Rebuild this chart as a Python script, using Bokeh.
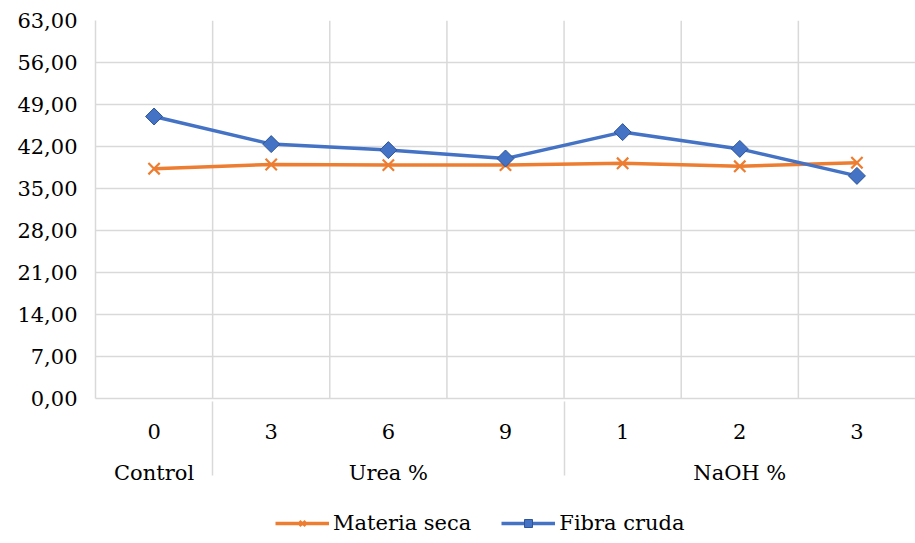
from bokeh.plotting import figure
from bokeh.layouts import column
from bokeh.models import FactorRange, FixedTicker, Legend, LegendItem, Span, ColumnDataSource
from bokeh.embed import file_html
from bokeh.resources import INLINE

# ---- data ----
groups = ["Control", "Urea %", "Urea %", "Urea %", "NaOH %", "NaOH %", "NaOH %"]
levels = ["0", "3", "6", "9", "1", "2", "3"]
materia_seca = [38.3, 39.0, 38.9, 38.9, 39.2, 38.7, 39.3]
fibra_cruda = [47.0, 42.4, 41.4, 40.0, 44.4, 41.6, 37.1]
series_names = ["Materia seca", "Fibra cruda"]
y_ticks = [0, 7, 14, 21, 28, 35, 42, 49, 56, 63]
y_tick_labels = ["0,00", "7,00", "14,00", "21,00", "28,00", "35,00",
                 "42,00", "49,00", "56,00", "63,00"]

FONT = "DejaVu Serif"
FS = "21px"
GRID = "#d9d9d9"
ORANGE = "#ED7D31"
BLUE = "#4472C4"
BLUE_EDGE = "#2F5597"

factors = list(zip(groups, levels))
src = ColumnDataSource(dict(x=factors, ms=materia_seca, fc=fibra_cruda))

x_range = FactorRange(*factors, group_padding=0, factor_padding=0, range_padding=0)

p = figure(width=915, height=498, x_range=x_range, y_range=(y_ticks[0], y_ticks[-1]),
           output_backend="svg", toolbar_location=None,
           min_border_left=95, min_border_right=0, min_border_top=20, min_border_bottom=100)
p.outline_line_color = None
p.background_fill_color = "white"
p.border_fill_color = "white"

# y axis
p.yaxis.ticker = FixedTicker(ticks=y_ticks)
p.yaxis.major_label_overrides = {t: l for t, l in zip(y_ticks, y_tick_labels)}
p.yaxis.major_label_text_font = FONT
p.yaxis.major_label_text_font_size = FS
p.yaxis.major_label_text_color = "#000000"
p.yaxis.major_tick_line_color = None
p.yaxis.minor_tick_line_color = None
p.yaxis.axis_line_color = GRID
p.yaxis.axis_line_width = 1.5
p.yaxis.major_label_standoff = 12

# x axis (two levels)
xa = p.xaxis[0]
xa.major_label_text_font = FONT
xa.major_label_text_font_size = FS
xa.major_label_text_color = "#000000"
xa.group_text_font = FONT
xa.group_text_font_size = FS
xa.group_text_color = "#000000"
xa.group_text_font_style = "normal"
xa.major_tick_line_color = None
xa.minor_tick_line_color = None
xa.axis_line_color = GRID
xa.axis_line_width = 1.5
xa.separator_line_color = GRID
xa.separator_line_width = 1.5
xa.major_label_standoff = 19

p.ygrid.grid_line_color = GRID
p.ygrid.grid_line_width = 1.5
p.xgrid.grid_line_color = None

# vertical category boundaries
for b in range(1, len(factors)):
    p.add_layout(Span(location=b, dimension="height", line_color=GRID,
                      line_width=1.5, level="underlay"))

# series
p.line("x", "ms", source=src, line_color=ORANGE, line_width=3.5)
p.scatter("x", "ms", source=src, marker="x", size=16, line_color=ORANGE, line_width=2.2)
p.line("x", "fc", source=src, line_color=BLUE, line_width=3.5)
p.scatter("x", "fc", source=src, marker="square", angle=0.785398, size=12,
          fill_color=BLUE, line_color=BLUE_EDGE, line_width=1)

# legend strip below the chart: same series, styled identically, outside its visible y range
lg = figure(width=915, height=45, x_range=x_range, y_range=(100, 101),
            output_backend="svg", toolbar_location=None,
            x_axis_type=None, y_axis_type=None,
            min_border_left=95, min_border_right=0, min_border_top=0, min_border_bottom=0)
lg.outline_line_color = None
lg.xgrid.visible = False
lg.ygrid.visible = False
l1 = lg.line("x", "ms", source=src, line_color=ORANGE, line_width=3.5)
s1 = lg.scatter("x", "ms", source=src, marker="x", size=16, line_color=ORANGE, line_width=2.2)
l2 = lg.line("x", "fc", source=src, line_color=BLUE, line_width=3.5)
s2 = lg.scatter("x", "fc", source=src, marker="square", angle=0.785398, size=12,
                fill_color=BLUE, line_color=BLUE_EDGE, line_width=1)

legend = Legend(items=[
    LegendItem(label=series_names[0], renderers=[l1, s1]),
    LegendItem(label=series_names[1], renderers=[l2, s2]),
], orientation="horizontal", location=(180, 8))
legend.label_text_font = FONT
legend.label_text_font_size = FS
legend.label_text_color = "#000000"
legend.glyph_width = 54
legend.glyph_height = 20
legend.label_standoff = 4
legend.spacing = 30
legend.border_line_color = None
legend.background_fill_alpha = 0
legend.margin = 0
legend.padding = 2
lg.add_layout(legend)

open("out.html", "w").write(file_html(column(p, lg, spacing=0), INLINE))
